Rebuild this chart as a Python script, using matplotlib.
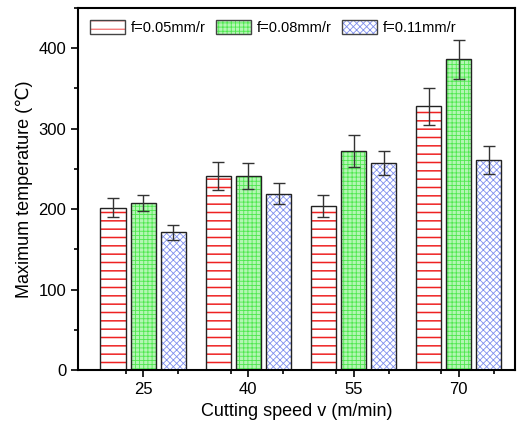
import numpy as np
import matplotlib.pyplot as plt
from matplotlib.ticker import MultipleLocator
from matplotlib.legend_handler import HandlerTuple

plt.rcParams['font.family'] = ['Liberation Sans', 'DejaVu Sans']

# datos
speeds = [25, 40, 55, 70]
t_005 = [202, 241, 204, 328]     # f=0.05mm/r
t_008 = [208, 241, 272, 386]     # f=0.08mm/r
t_011 = [171, 219, 257, 261]     # f=0.11mm/r
e_005 = [12, 17, 14, 23]
e_008 = [10, 16, 20, 24]
e_011 = [9, 13, 15, 17]
labels = ['f=0.05mm/r', 'f=0.08mm/r', 'f=0.11mm/r']

fig = plt.figure(figsize=(5.2, 4.37), dpi=100)
ax = fig.add_axes([0.15, 0.153, 0.84, 0.829])

x = np.array(speeds, dtype=float)
w = 3.6
d = 4.3

# (valores, errores, desplazamiento, relleno, color trama, trama, grosor trama)
series = [(t_005, e_005, -d, 'white', '#ee2222', '--', 1.1),
          (t_008, e_008, 0, '#b4f6b4', '#4ee84e', '++++', 0.6),
          (t_011, e_011, d, 'white', '#8090ee', 'xxxxx', 0.6)]

handles = []
for (vals, errs, off, fc, hc, hatch, hlw), lab in zip(series, labels):
    plt.rcParams['hatch.linewidth'] = hlw
    ax.bar(x + off, vals, w, color=fc, edgecolor=hc, hatch=hatch, linewidth=0)
    ax.bar(x + off, vals, w, fill=False, edgecolor='#222222', linewidth=1.0)
    ax.errorbar(x + off, vals, yerr=errs, fmt='none', ecolor='#333333',
                elinewidth=1.0, capsize=4, capthick=1.0)
    # rectangulos para la leyenda (relleno + borde)
    p1 = plt.Rectangle((0, 0), 1, 1, facecolor=fc, edgecolor=hc, hatch=hatch, linewidth=0)
    p2 = plt.Rectangle((0, 0), 1, 1, fill=False, edgecolor='#444444', linewidth=1.0)
    handles.append((p1, p2))

ax.set_xlim(15.7, 78)
ax.set_ylim(0, 450)
ax.set_xticks(speeds)
ax.xaxis.set_minor_locator(MultipleLocator(7.5))
ax.yaxis.set_major_locator(MultipleLocator(100))
ax.yaxis.set_minor_locator(MultipleLocator(50))
ax.tick_params(which='major', direction='out', length=5, width=1.2, labelsize=12)
ax.tick_params(which='minor', direction='out', length=3, width=1.2)
for s in ax.spines.values():
    s.set_linewidth(1.5)

ax.set_xlabel('Cutting speed v (m/min)', fontsize=13)
ax.set_ylabel('Maximum temperature (\u2103)', fontsize=13)

leg = ax.legend(handles, labels, loc='upper left', ncol=3, frameon=False,
                fontsize=10.5, handlelength=2.4, handleheight=1.2, columnspacing=0.7,
                handletextpad=0.4, bbox_to_anchor=(0.0, 1.0), borderaxespad=0.4,
                handler_map={tuple: HandlerTuple(ndivide=1)})

fig.savefig('out.png', dpi=100)
